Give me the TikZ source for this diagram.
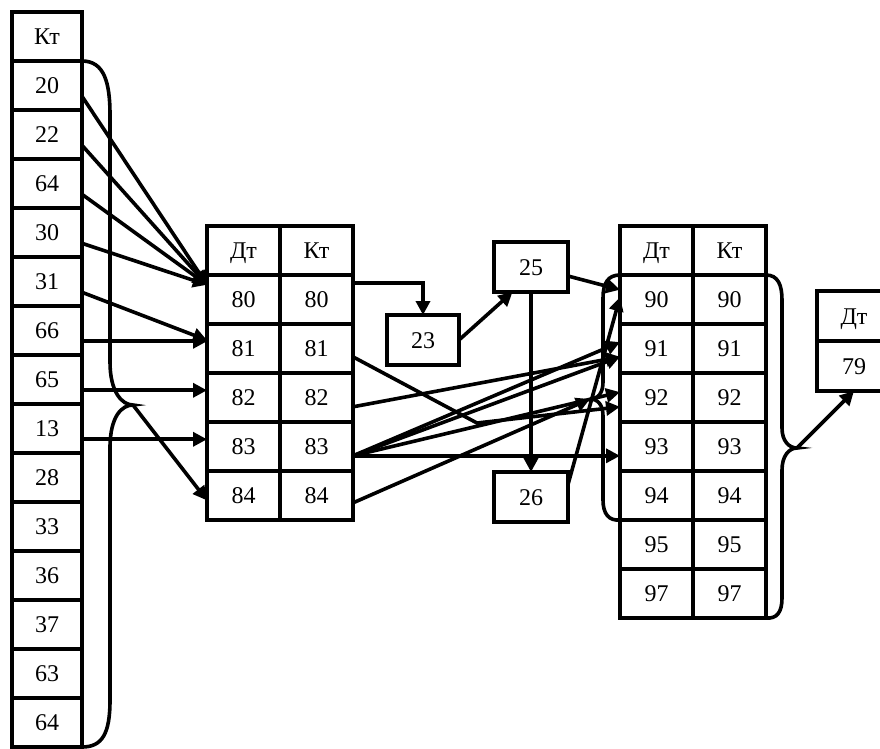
\documentclass[tikz,border=0pt]{standalone}
\usepackage{fontspec}
\setmainfont{Liberation Serif}
\usetikzlibrary{arrows.meta,calc}

\begin{document}
\begin{tikzpicture}[%
      x=1pt, y=-1pt,
      font=\fontsize{24}{28}\selectfont,
      cell/.style={draw, line width=4pt, minimum width=73pt, minimum height=49pt,
        inner sep=0pt, outer sep=0pt, text height=16pt, text depth=0pt},
      bracepath/.style={line width=3.6pt},
      arr/.style={line width=3.6pt, -{Triangle[length=14pt,width=14pt]}},
      ]
      \useasboundingbox (0,0) rectangle (880,748);

      % left column
      \foreach \txt [count=\i from 0] in {Кт,20,22,64,30,31,66,65,13,28,33,36,37,63,64}
        \node[cell, minimum width=70pt] (l\i) at (47,36.5+49*\i) {\txt};

      % middle table
      \node[cell] (md0) at (243.5,250.5) {Дт};
      \node[cell] (mk0) at (316.5,250.5) {Кт};
      \foreach \n [count=\j] in {80,81,82,83,84} {
        \node[cell] (md\j) at (243.5,250.5+49*\j) {\n};
        \node[cell] (mk\j) at (316.5,250.5+49*\j) {\n};
      }

      % right table
      \node[cell] (rd0) at (656.5,250.5) {Дт};
      \node[cell] (rk0) at (729.5,250.5) {Кт};
      \foreach \n [count=\j] in {90,91,92,93,94,95,97} {
        \node[cell] (rd\j) at (656.5,250.5+49*\j) {\n};
        \node[cell] (rk\j) at (729.5,250.5+49*\j) {\n};
      }

      % single boxes
      \node[cell, minimum width=72pt, minimum height=50pt] (b23) at (423,340) {23};
      \node[cell, minimum width=74pt, minimum height=50pt] (b25) at (531,267) {25};
      \node[cell, minimum width=74pt, minimum height=50pt] (b26) at (531,497) {26};
      \node[cell, minimum width=74pt, minimum height=50pt] (b79h) at (854,316) {Дт};
      \node[cell, minimum width=74pt, minimum height=50pt] (b79) at (854,366) {79};

      % braces
      \coordinate (lcusp) at (133,405);
      \coordinate (icusp) at (590,399);
      \coordinate (ocusp) at (797,448);
      \draw[bracepath] (l1.north east) .. controls (104,61) and (110,82) .. (110,115)
        -- (110,362) .. controls (110,392) and (122,405) .. (lcusp)
        .. controls (122,405) and (110,416) .. (110,448)
        -- (110,700) .. controls (110,734) and (102,747) .. (l14.south east);
      \draw[bracepath] (rd1.north west) .. controls (608,275) and (603,283) .. (603,298)
        -- (603,382) .. controls (603,393) and (598,399) .. (icusp)
        .. controls (598,399) and (603,405) .. (603,416)
        -- (603,500) .. controls (603,514) and (609,521) .. (rd5.south west);
      \draw[bracepath] (rk1.north east) .. controls (778,275) and (782,285) .. (782,300)
        -- (782,428) .. controls (782,441) and (789,448) .. (ocusp)
        .. controls (789,448) and (782,456) .. (782,470)
        -- (782,598) .. controls (782,612) and (777,619) .. (rk7.south east);

      % left column to middle table
      \foreach \i in {1,...,8}
        \coordinate (s\i) at ($(l\i.north east)!0.72!(l\i.south east)$);
      \coordinate (t80) at ($(md1.north west)!0.2!(md1.south west)$);
      \coordinate (t81) at ($(md2.north west)!0.33!(md2.south west)$);
      \coordinate (t84) at ($(md5.north west)!0.6!(md5.south west)$);
      \foreach \i in {1,...,4}
        \draw[arr] (s\i) -- (t80);
      \draw[arr] (s5) -- (t81);
      \draw[arr] (s6) -- (s6 -| md2.west);
      \draw[arr] (s7) -- (s7 -| md3.west);
      \draw[arr] (s8) -- (s8 -| md4.west);
      \draw[arr] (lcusp) -- (t84);

      % middle table to the right
      \coordinate (k80) at ($(mk1.north east)!0.16!(mk1.south east)$);
      \coordinate (k81) at ($(mk2.north east)!0.67!(mk2.south east)$);
      \coordinate (k82) at ($(mk3.north east)!0.69!(mk3.south east)$);
      \coordinate (k83) at ($(mk4.north east)!0.69!(mk4.south east)$);
      \coordinate (k84) at ($(mk5.north east)!0.65!(mk5.south east)$);
      \coordinate (j81) at (477,423);
      \coordinate (t90a) at ($(rd1.north west)!0.3!(rd1.south west)$);
      \coordinate (t90b) at ($(rd1.north west)!0.45!(rd1.south west)$);
      \coordinate (t91a) at ($(rd2.north west)!0.37!(rd2.south west)$);
      \coordinate (t91b) at ($(rd2.north west)!0.67!(rd2.south west)$);
      \coordinate (t92a) at ($(rd3.north west)!0.39!(rd3.south west)$);
      \coordinate (t92b) at ($(rd3.north west)!0.69!(rd3.south west)$);

      \draw[arr] (k80) -| (b23.north);
      \draw[arr] (b23.east) -- ($(b25.south west)!0.25!(b25.south east)$);
      \draw[arr] ($(b25.north east)!0.68!(b25.south east)$) -- (t90a);
      \draw[arr] (b25.south) -- (b26.north);
      \draw[arr] ($(b26.north east)!0.25!(b26.south east)$) -- (t90b);
      \draw[arr] (k81) -- (j81) -- (t92b);
      \draw[arr] (k82) -- (t91b);
      \draw[arr] (k83) -- (t91a);
      \draw[arr] (k83) -- (t91b);
      \draw[arr] (k83) -- (t92a);
      \draw[arr] (k83) -- (k83 -| rd4.west);
      \draw[arr] (k84) -- (icusp);
      \draw[arr] (ocusp) -- (b79.south);
\end{tikzpicture}
\end{document}
